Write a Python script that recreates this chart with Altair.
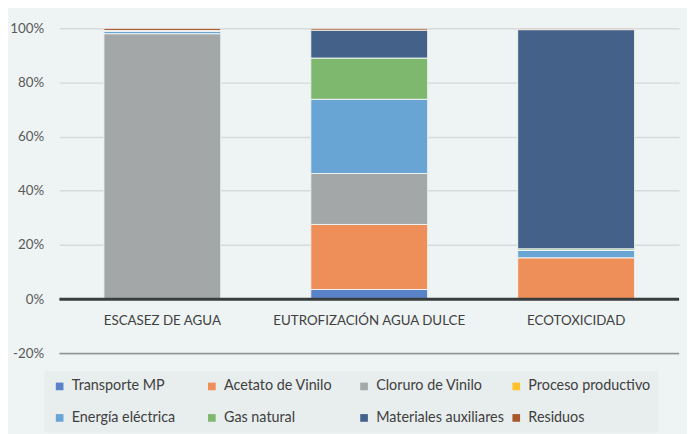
import altair as alt
import pandas as pd

categories = ["ESCASEZ DE AGUA", "EUTROFIZACIÓN AGUA DULCE", "ECOTOXICIDAD"]
series = ["Transporte MP", "Acetato de Vinilo", "Cloruro de Vinilo", "Proceso productivo",
          "Energía eléctrica", "Gas natural", "Materiales auxiliares", "Residuos"]
colors = ["#5a82c8", "#ee8f5a", "#a4a7a7", "#fdc12c", "#68a4d4", "#7db86e", "#436189", "#a8582a"]

# percent contribution of each series per category (in series order)
escasez = [0.0, 0.0, 98.0, 0.0, 0.8, 0.4, 0.0, 0.8]
eutrofizacion = [3.6, 24.0, 18.8, 0.0, 27.4, 15.2, 10.3, 0.7]
ecotoxicidad = [0.0, 15.3, 0.0, 0.0, 2.7, 0.6, 80.9, 0.5]
y_ticks = [-0.2, 0.0, 0.2, 0.4, 0.6, 0.8, 1.0]

rows = []
for cat, vals in zip(categories, [escasez, eutrofizacion, ecotoxicidad]):
    for i, (s, v) in enumerate(zip(series, vals)):
        if v > 0:
            rows.append({"cat": cat, "serie": s, "idx": i, "val": v / 100.0})
df = pd.DataFrame(rows)
cat_df = pd.DataFrame({"cat": categories, "ypos": [-0.08] * len(categories)})

FONT = "Lato"
BG = "#eef3f3"

xscale = alt.Scale(domain=categories, paddingInner=0.435, paddingOuter=0.215)
yscale = alt.Scale(domain=[-0.2, 1.0], nice=False)

bars = alt.Chart(df).mark_bar(stroke="#eef3f3", strokeWidth=1).encode(
    x=alt.X("cat:N", scale=xscale, axis=None, sort=categories),
    y=alt.Y("val:Q", scale=yscale, stack="zero",
            axis=alt.Axis(values=y_ticks, format=".0%", title=None, domain=False, ticks=False,
                          labelExpr="replace(datum.label, '−', '-')",
                          labelPadding=16, labelFontSize=13.5, labelColor="#595959", labelFont=FONT,
                          gridColor="#d6dada", gridWidth=1.5)),
    color=alt.Color("serie:N", scale=alt.Scale(domain=series, range=colors), sort=series,
                    legend=alt.Legend(title=None, orient="none", direction="horizontal",
                                      legendX=-15, legendY=347,
                                      columns=4, symbolType="square", symbolSize=60,
                                      symbolStrokeWidth=0, labelFont=FONT, labelFontSize=14.5,
                                      labelColor="#404040", labelOffset=5, columnPadding=5,
                                      rowPadding=17, padding=8, fillColor="#e8eded",
                                      gridAlign="all", labelLimit=200)),
    order=alt.Order("idx:Q", sort="ascending"),
)

neg_rule = alt.Chart(pd.DataFrame({"y": [-0.2]})).mark_rule(color="#8f9393", strokeWidth=1.5).encode(
    y=alt.Y("y:Q", scale=yscale))
zero_rule = alt.Chart(pd.DataFrame({"y": [0.0]})).mark_rule(color="#3a3d3d", strokeWidth=3).encode(
    y=alt.Y("y:Q", scale=yscale))

labels = alt.Chart(cat_df).mark_text(font=FONT, fontSize=13.5, color="#404040", baseline="middle").encode(
    x=alt.X("cat:N", scale=xscale, axis=None, sort=categories),
    y=alt.Y("ypos:Q", scale=yscale),
    text="cat:N",
)

chart = alt.layer(neg_rule, bars, zero_rule, labels).properties(
    width=627, height=329,
    autosize=alt.AutoSizeParams(type="none"),
    padding={"left": 52, "top": 18, "right": 8, "bottom": 79},
    background=BG,
).configure_view(stroke=None, fill=BG)

chart.save("out.html", embed_options={"renderer": "svg", "actions": False})
